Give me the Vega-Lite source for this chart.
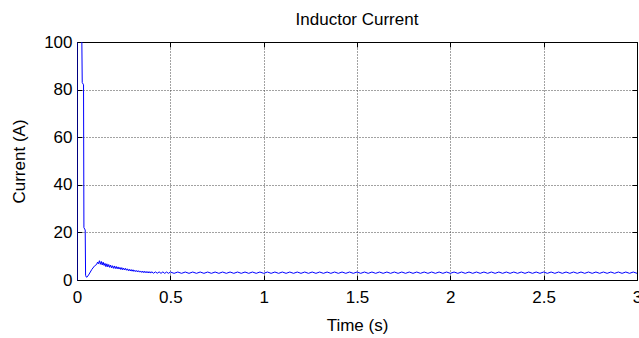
{
  "$schema": "https://vega.github.io/schema/vega-lite/v6.json",
  "width": 560,
  "height": 238,
  "autosize": {"type": "none"},
  "padding": {"left": 77, "top": 42, "right": 2, "bottom": 58},
  "background": "white",
  "title": {"text": "Inductor Current", "font": "Liberation Sans", "fontSize": 17, "fontWeight": "normal", "color": "black", "offset": 4, "anchor": "middle"},
  "config": {
    "view": {"stroke": "black", "strokeWidth": 1},
    "axis": {
      "labelFont": "Liberation Sans", "titleFont": "Liberation Sans",
      "labelColor": "black", "titleColor": "black",
      "labelFontSize": 17, "titleFontSize": 17, "titleFontWeight": "normal",
      "domainColor": "black", "tickColor": "black",
      "gridColor": "#444444", "gridDash": [1, 2], "gridOpacity": 1, "gridWidth": 1
    }
  },
  "data": {"values": [
    {"t": 0.026, "v": 100}, {"t": 0.028, "v": 83}, {"t": 0.035, "v": 82}, {"t": 0.037, "v": 22}, {"t": 0.044, "v": 21},
    {"t": 0.046, "v": 2}, {"t": 0.05, "v": 1.2}, {"t": 0.055, "v": 1.3}, {"t": 0.065, "v": 2.5}, {"t": 0.08, "v": 4.5},
    {"t": 0.095, "v": 6}, {"t": 0.105, "v": 6.5}, {"t": 0.11, "v": 7.5}, {"t": 0.115, "v": 6.8},
    {"t": 0.12, "v": 8.1}, {"t": 0.125, "v": 6.6}, {"t": 0.13, "v": 7.8}, {"t": 0.135, "v": 6.3}, {"t": 0.14, "v": 7.5},
    {"t": 0.145, "v": 6.1}, {"t": 0.15, "v": 7.0}, {"t": 0.155, "v": 5.6}, {"t": 0.16, "v": 6.8}, {"t": 0.165, "v": 5.5},
    {"t": 0.17, "v": 6.5}, {"t": 0.175, "v": 5.3}, {"t": 0.18, "v": 6.3}, {"t": 0.185, "v": 5.1}, {"t": 0.19, "v": 6.0},
    {"t": 0.195, "v": 4.9}, {"t": 0.2, "v": 5.9}, {"t": 0.205, "v": 4.8}, {"t": 0.21, "v": 5.7}, {"t": 0.215, "v": 4.7},
    {"t": 0.22, "v": 5.5}, {"t": 0.225, "v": 4.6}, {"t": 0.23, "v": 5.3}, {"t": 0.235, "v": 4.4}, {"t": 0.24, "v": 5.2},
    {"t": 0.245, "v": 4.3}, {"t": 0.25, "v": 5.0}, {"t": 0.255, "v": 4.2}, {"t": 0.26, "v": 4.9}, {"t": 0.265, "v": 4.1},
    {"t": 0.27, "v": 4.7}, {"t": 0.275, "v": 3.9}, {"t": 0.28, "v": 4.5}, {"t": 0.285, "v": 3.8}, {"t": 0.29, "v": 4.4},
    {"t": 0.295, "v": 3.7}, {"t": 0.3, "v": 4.3}, {"t": 0.305, "v": 3.6}, {"t": 0.31, "v": 4.1}, {"t": 0.315, "v": 3.5},
    {"t": 0.32, "v": 4.0}, {"t": 0.325, "v": 3.4}, {"t": 0.33, "v": 3.9}, {"t": 0.335, "v": 3.3}, {"t": 0.34, "v": 3.8},
    {"t": 0.345, "v": 3.2}, {"t": 0.35, "v": 3.75}, {"t": 0.355, "v": 3.1}, {"t": 0.36, "v": 3.7}, {"t": 0.365, "v": 3.05},
    {"t": 0.37, "v": 3.6}, {"t": 0.375, "v": 3.0}, {"t": 0.38, "v": 3.55}, {"t": 0.385, "v": 2.95}, {"t": 0.39, "v": 3.5},
    {"t": 0.395, "v": 2.9}, {"t": 0.4, "v": 3.45}, {"t": 0.41, "v": 2.85}, {"t": 0.42, "v": 3.4}, {"t": 0.43, "v": 2.85},
    {"t": 0.44, "v": 3.4}, {"t": 0.45, "v": 2.8}, {"t": 0.46, "v": 3.4}, {"t": 0.47, "v": 2.8}, {"t": 0.48, "v": 3.35},
    {"t": 0.49, "v": 2.8}, {"t": 0.5, "v": 3.35},
    {"t": 0.52, "v": 2.8}, {"t": 0.54, "v": 3.35}, {"t": 0.56, "v": 2.8}, {"t": 0.58, "v": 3.35}, {"t": 0.60, "v": 2.8},
    {"t": 0.62, "v": 3.35}, {"t": 0.64, "v": 2.8}, {"t": 0.66, "v": 3.35}, {"t": 0.68, "v": 2.8}, {"t": 0.70, "v": 3.35},
    {"t": 0.72, "v": 2.8}, {"t": 0.74, "v": 3.35}, {"t": 0.76, "v": 2.8}, {"t": 0.78, "v": 3.35}, {"t": 0.80, "v": 2.8},
    {"t": 0.82, "v": 3.35}, {"t": 0.84, "v": 2.8}, {"t": 0.86, "v": 3.35}, {"t": 0.88, "v": 2.8}, {"t": 0.90, "v": 3.35},
    {"t": 0.92, "v": 2.8}, {"t": 0.94, "v": 3.35}, {"t": 0.96, "v": 2.8}, {"t": 0.98, "v": 3.35}, {"t": 1.00, "v": 2.8},
    {"t": 1.02, "v": 3.35}, {"t": 1.04, "v": 2.8}, {"t": 1.06, "v": 3.35}, {"t": 1.08, "v": 2.8}, {"t": 1.10, "v": 3.35},
    {"t": 1.12, "v": 2.8}, {"t": 1.14, "v": 3.35}, {"t": 1.16, "v": 2.8}, {"t": 1.18, "v": 3.35}, {"t": 1.20, "v": 2.8},
    {"t": 1.22, "v": 3.35}, {"t": 1.24, "v": 2.8}, {"t": 1.26, "v": 3.35}, {"t": 1.28, "v": 2.8}, {"t": 1.30, "v": 3.35},
    {"t": 1.32, "v": 2.8}, {"t": 1.34, "v": 3.35}, {"t": 1.36, "v": 2.8}, {"t": 1.38, "v": 3.35}, {"t": 1.40, "v": 2.8},
    {"t": 1.42, "v": 3.35}, {"t": 1.44, "v": 2.8}, {"t": 1.46, "v": 3.35}, {"t": 1.48, "v": 2.8}, {"t": 1.50, "v": 3.35},
    {"t": 1.52, "v": 2.8}, {"t": 1.54, "v": 3.35}, {"t": 1.56, "v": 2.8}, {"t": 1.58, "v": 3.35}, {"t": 1.60, "v": 2.8},
    {"t": 1.62, "v": 3.35}, {"t": 1.64, "v": 2.8}, {"t": 1.66, "v": 3.35}, {"t": 1.68, "v": 2.8}, {"t": 1.70, "v": 3.35},
    {"t": 1.72, "v": 2.8}, {"t": 1.74, "v": 3.35}, {"t": 1.76, "v": 2.8}, {"t": 1.78, "v": 3.35}, {"t": 1.80, "v": 2.8},
    {"t": 1.82, "v": 3.35}, {"t": 1.84, "v": 2.8}, {"t": 1.86, "v": 3.35}, {"t": 1.88, "v": 2.8}, {"t": 1.90, "v": 3.35},
    {"t": 1.92, "v": 2.8}, {"t": 1.94, "v": 3.35}, {"t": 1.96, "v": 2.8}, {"t": 1.98, "v": 3.35}, {"t": 2.00, "v": 2.8},
    {"t": 2.02, "v": 3.35}, {"t": 2.04, "v": 2.8}, {"t": 2.06, "v": 3.35}, {"t": 2.08, "v": 2.8}, {"t": 2.10, "v": 3.35},
    {"t": 2.12, "v": 2.8}, {"t": 2.14, "v": 3.35}, {"t": 2.16, "v": 2.8}, {"t": 2.18, "v": 3.35}, {"t": 2.20, "v": 2.8},
    {"t": 2.22, "v": 3.35}, {"t": 2.24, "v": 2.8}, {"t": 2.26, "v": 3.35}, {"t": 2.28, "v": 2.8}, {"t": 2.30, "v": 3.35},
    {"t": 2.32, "v": 2.8}, {"t": 2.34, "v": 3.35}, {"t": 2.36, "v": 2.8}, {"t": 2.38, "v": 3.35}, {"t": 2.40, "v": 2.8},
    {"t": 2.42, "v": 3.35}, {"t": 2.44, "v": 2.8}, {"t": 2.46, "v": 3.35}, {"t": 2.48, "v": 2.8}, {"t": 2.50, "v": 3.35},
    {"t": 2.52, "v": 2.8}, {"t": 2.54, "v": 3.35}, {"t": 2.56, "v": 2.8}, {"t": 2.58, "v": 3.35}, {"t": 2.60, "v": 2.8},
    {"t": 2.62, "v": 3.35}, {"t": 2.64, "v": 2.8}, {"t": 2.66, "v": 3.35}, {"t": 2.68, "v": 2.8}, {"t": 2.70, "v": 3.35},
    {"t": 2.72, "v": 2.8}, {"t": 2.74, "v": 3.35}, {"t": 2.76, "v": 2.8}, {"t": 2.78, "v": 3.35}, {"t": 2.80, "v": 2.8},
    {"t": 2.82, "v": 3.35}, {"t": 2.84, "v": 2.8}, {"t": 2.86, "v": 3.35}, {"t": 2.88, "v": 2.8}, {"t": 2.90, "v": 3.35},
    {"t": 2.92, "v": 2.8}, {"t": 2.94, "v": 3.35}, {"t": 2.96, "v": 2.8}, {"t": 2.98, "v": 3.35}, {"t": 3.00, "v": 2.8}
  ]},
  "layer": [
    {
      "mark": {"type": "line", "color": "#0000ff", "strokeWidth": 1, "clip": true},
      "encoding": {
        "x": {"field": "t", "type": "quantitative", "scale": {"domain": [0, 3], "nice": false, "zero": false},
              "axis": {"title": "Time (s)", "values": [0, 0.5, 1, 1.5, 2, 2.5, 3], "format": "~g", "tickSize": -5, "labelPadding": 14, "titlePadding": 12, "grid": true, "labelFlush": false}},
        "y": {"field": "v", "type": "quantitative", "scale": {"domain": [0, 100], "nice": false},
              "axis": {"title": "Current (A)", "values": [0, 20, 40, 60, 80, 100], "tickSize": -5, "labelPadding": 10, "titlePadding": 15, "grid": true, "labelFlush": false, "domainColor": "#000080"}}
      }
    },
    {
      "mark": {"type": "line", "opacity": 0},
      "encoding": {
        "x": {"field": "t", "type": "quantitative", "scale": {"domain": [0, 3], "nice": false, "zero": false},
              "axis": {"orient": "top", "title": null, "labels": false, "values": [0, 0.5, 1, 1.5, 2, 2.5, 3], "tickSize": -5, "grid": false}},
        "y": {"field": "v", "type": "quantitative", "scale": {"domain": [0, 100], "nice": false},
              "axis": {"orient": "right", "title": null, "labels": false, "values": [0, 20, 40, 60, 80, 100], "tickSize": -5, "grid": false}}
      }
    }
  ],
  "resolve": {"axis": {"x": "independent", "y": "independent"}}
}
